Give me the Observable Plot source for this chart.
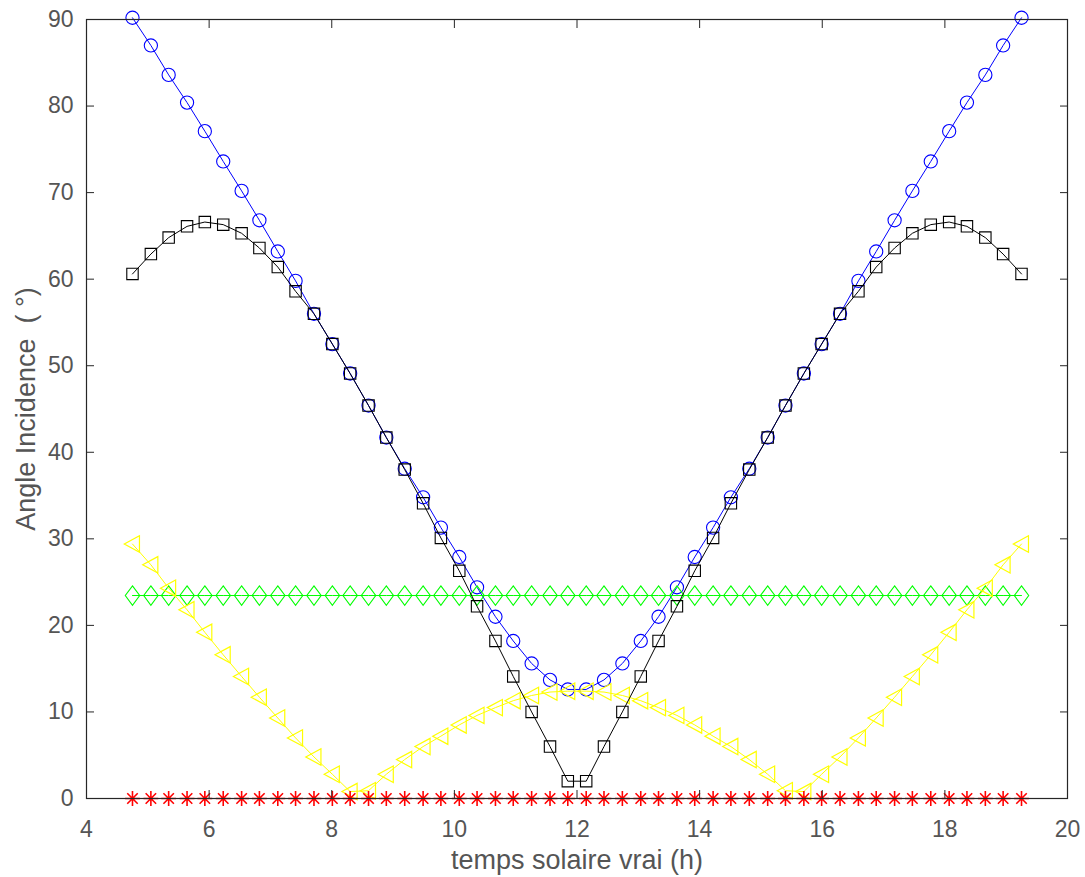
<!DOCTYPE html>
<html><head><meta charset="utf-8">
<script src="https://cdn.jsdelivr.net/npm/d3@7"></script>
<script src="https://cdn.jsdelivr.net/npm/@observablehq/plot@0.6"></script>
<style>html,body{margin:0;padding:0;background:#fff;} svg{display:block}</style>
</head><body><div id="chart"></div>
<script>
// Temps solaire vrai (h)
const hours = [4.75, 5.05, 5.34, 5.64, 5.93, 6.23, 6.53, 6.82, 7.12, 7.41, 7.71, 8.01, 8.30, 8.60, 8.89, 9.19, 9.49, 9.78, 10.08, 10.37, 10.67, 10.96, 11.26, 11.56, 11.85,
               12.15, 12.44, 12.74, 13.04, 13.33, 13.63, 13.92, 14.22, 14.51, 14.81, 15.11, 15.40, 15.70, 15.99, 16.29, 16.59, 16.88, 17.18, 17.47, 17.77, 18.07, 18.36, 18.66, 18.95, 19.25];
// Angle d'incidence (°) for each surface
const blueCircles = [90.2, 87.0, 83.6, 80.4, 77.1, 73.6, 70.2, 66.8, 63.2, 59.8, 56.0, 52.5, 49.1, 45.4, 41.7, 38.1, 34.8, 31.3, 27.9, 24.4, 21.0, 18.2, 15.6, 13.7, 12.6,
                     12.6, 13.7, 15.6, 18.2, 21.0, 24.4, 27.9, 31.3, 34.8, 38.1, 41.7, 45.4, 49.1, 52.5, 56.0, 59.8, 63.2, 66.8, 70.2, 73.6, 77.1, 80.4, 83.6, 87.0, 90.2];
const blackSquares = [60.6, 62.9, 64.8, 66.1, 66.6, 66.3, 65.3, 63.6, 61.4, 58.6, 56.0, 52.5, 49.1, 45.4, 41.7, 38.0, 34.1, 30.1, 26.3, 22.2, 18.2, 14.1, 10.0, 6.0, 2.0,
                      2.0, 6.0, 10.0, 14.1, 18.2, 22.2, 26.3, 30.1, 34.1, 38.0, 41.7, 45.4, 49.1, 52.5, 56.0, 58.6, 61.4, 63.6, 65.3, 66.3, 66.6, 66.1, 64.8, 62.9, 60.6];
const yellowTriangles = [29.4, 27.0, 24.3, 21.8, 19.2, 16.6, 14.1, 11.7, 9.3, 7.0, 4.8, 2.8, 0.8, 0.9, 2.8, 4.5, 6.0, 7.2, 8.5, 9.6, 10.5, 11.3, 11.9, 12.3, 12.4,
                         12.4, 12.3, 11.9, 11.3, 10.5, 9.6, 8.5, 7.2, 6.0, 4.5, 2.8, 0.9, 0.8, 2.8, 4.8, 7.0, 9.3, 11.7, 14.1, 16.6, 19.2, 21.8, 24.3, 27.0, 29.4];
const greenDiamonds = [23.45, 23.45, 23.45, 23.45, 23.45, 23.45, 23.45, 23.45, 23.45, 23.45, 23.45, 23.45, 23.45, 23.45, 23.45, 23.45, 23.45, 23.45, 23.45, 23.45, 23.45, 23.45, 23.45, 23.45, 23.45,
                       23.45, 23.45, 23.45, 23.45, 23.45, 23.45, 23.45, 23.45, 23.45, 23.45, 23.45, 23.45, 23.45, 23.45, 23.45, 23.45, 23.45, 23.45, 23.45, 23.45, 23.45, 23.45, 23.45, 23.45, 23.45];
const redStars = [0, 0, 0, 0, 0, 0, 0, 0, 0, 0, 0, 0, 0, 0, 0, 0, 0, 0, 0, 0, 0, 0, 0, 0, 0,
                  0, 0, 0, 0, 0, 0, 0, 0, 0, 0, 0, 0, 0, 0, 0, 0, 0, 0, 0, 0, 0, 0, 0, 0, 0];
const xTicks = [4, 6, 8, 10, 12, 14, 16, 18, 20];
const yTicks = [0, 10, 20, 30, 40, 50, 60, 70, 80, 90];
const xLabel = "temps solaire vrai (h)";
const yLabel = "Angle Incidence  ( °)";

// MATLAB-like marker shapes
const R = s => Math.sqrt(s / Math.PI);
const symCircle = {draw(c, s) { const r = R(s); c.moveTo(r, 0); c.arc(0, 0, r, 0, 2 * Math.PI); c.closePath(); }};
const symSquare = {draw(c, s) { const r = R(s); c.moveTo(-r, -r); c.lineTo(r, -r); c.lineTo(r, r); c.lineTo(-r, r); c.closePath(); }};
const symDiamond = {draw(c, s) { const r = R(s); c.moveTo(0, -r * 1.35); c.lineTo(r, 0); c.lineTo(0, r * 1.35); c.lineTo(-r, 0); c.closePath(); }};
const symTriLeft = {draw(c, s) { const r = R(s); c.moveTo(-r, 0); c.lineTo(r * 0.85, -r * 1.0); c.lineTo(r * 0.85, r * 1.0); c.closePath(); }};
const symStar = {draw(c, s) { const r = R(s); const d = r * Math.SQRT1_2;
  c.moveTo(-r, 0); c.lineTo(r, 0); c.moveTo(0, -r); c.lineTo(0, r);
  c.moveTo(-d, -d); c.lineTo(d, d); c.moveTo(-d, d); c.lineTo(d, -d); }};

const table = (ys) => hours.map((h, i) => ({h, v: ys[i]}));
const series = [
  {data: table(blueCircles), color: "#0000ff", symbol: symCircle, r: 6.6, sw: 1.1},
  {data: table(greenDiamonds), color: "#00ff00", symbol: symDiamond, r: 7.2, sw: 1.1},
  {data: table(yellowTriangles), color: "#ffff00", symbol: symTriLeft, r: 8.2, sw: 1.2},
  {data: table(blackSquares), color: "#000000", symbol: symSquare, r: 5.7, sw: 1.1},
  {data: table(redStars), color: "#ff0000", symbol: symStar, r: 7.4, sw: 1.6}
];

const axisColor = "#262626";
const textColor = "#555555";
const marks = [];
for (const s of series) {
  marks.push(Plot.line(s.data, {x: "h", y: "v", stroke: s.color, strokeWidth: 1}));
  marks.push(Plot.dot(s.data, {x: "h", y: "v", stroke: s.color, fill: "none", strokeWidth: s.sw, symbol: s.symbol, r: s.r}));
}
marks.push(
  Plot.frame({stroke: axisColor, strokeWidth: 1.2}),
  Plot.axisX(xTicks, {anchor: "bottom", tickSize: -8, tickFormat: () => "", stroke: axisColor, label: null}),
  Plot.axisX(xTicks, {anchor: "top", tickSize: -8, tickFormat: () => "", stroke: axisColor, label: null}),
  Plot.axisY(yTicks, {anchor: "left", tickSize: -8, tickFormat: () => "", stroke: axisColor, label: null}),
  Plot.axisY(yTicks, {anchor: "right", tickSize: -8, tickFormat: () => "", stroke: axisColor, label: null}),
  Plot.axisX(xTicks, {anchor: "bottom", tickSize: 0, tickPadding: 22, fill: textColor, fontSize: 23, label: null}),
  Plot.axisY(yTicks, {anchor: "left", tickSize: 0, tickPadding: 13, fill: textColor, fontSize: 23, label: null}),
  Plot.text([xLabel], {frameAnchor: "bottom", dy: 62, fill: textColor, fontSize: 27, textAnchor: "middle", lineAnchor: "middle"}),
  Plot.text([yLabel], {frameAnchor: "left", dx: -60, rotate: -90, fill: textColor, fontSize: 27, textAnchor: "middle", lineAnchor: "middle"})
);

const chart = Plot.plot({
  width: 1085,
  height: 877,
  marginLeft: 86,
  marginRight: 18,
  marginTop: 19,
  marginBottom: 79,
  style: {fontFamily: "'Liberation Sans', Arial, sans-serif", background: "#fff", overflow: "visible"},
  x: {domain: [4, 20]},
  y: {domain: [0, 90]},
  marks
});
document.getElementById("chart").appendChild(chart);
</script>
</body></html>
